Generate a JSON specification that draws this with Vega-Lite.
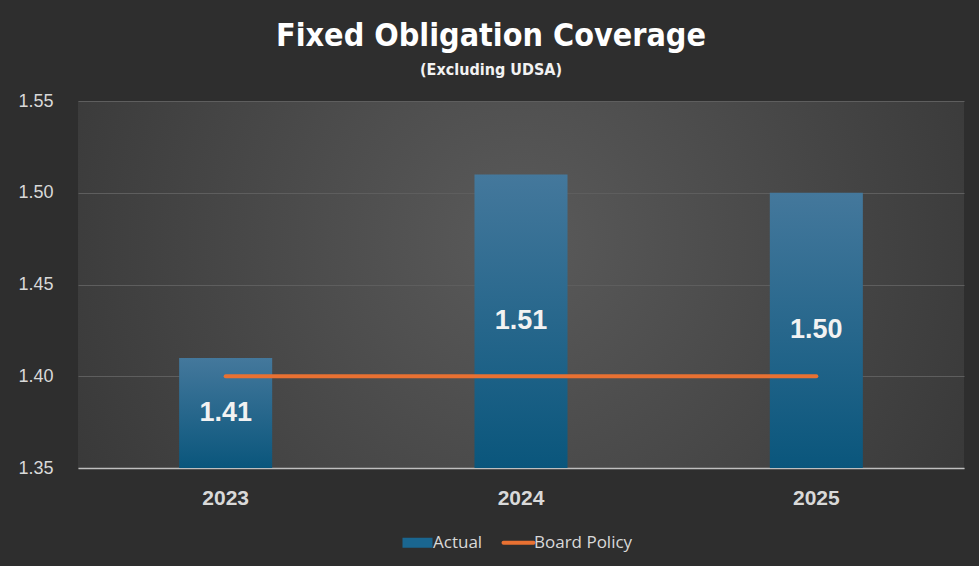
{
  "$schema": "https://vega.github.io/schema/vega-lite/v6.json",
  "autosize": "none",
  "width": 886,
  "height": 367,
  "padding": {"left": 78, "top": 101, "right": 15, "bottom": 98},
  "background": "#2e2e2e",
  "title": {
    "text": "Fixed Obligation Coverage",
    "subtitle": "(Excluding UDSA)",
    "frame": "bounds",
    "anchor": "middle",
    "font": "DejaVu Sans Condensed",
    "fontSize": 32,
    "fontWeight": "bold",
    "color": "#ffffff",
    "subtitleFont": "DejaVu Sans Condensed",
    "subtitleFontSize": 16,
    "subtitleFontWeight": "bold",
    "subtitleColor": "#f2f2f2",
    "subtitlePadding": 9,
    "offset": 13
  },
  "config": {
    "view": {
      "stroke": null,
      "fill": {
        "gradient": "radial",
        "x1": 0.5, "y1": 0.45, "r1": 0,
        "x2": 0.5, "y2": 0.45, "r2": 0.72,
        "stops": [
          {"offset": 0, "color": "#5a5a5a"},
          {"offset": 1, "color": "#303030"}
        ]
      }
    },
    "legend": {"layout": {"bottom": {"anchor": "middle"}}}
  },
  "data": {
    "values": [
      {"year": "2023", "actual": 1.41, "policy": 1.40},
      {"year": "2024", "actual": 1.51, "policy": 1.40},
      {"year": "2025", "actual": 1.50, "policy": 1.40}
    ]
  },
  "encoding": {
    "x": {
      "field": "year",
      "type": "nominal",
      "scale": {"paddingInner": 0.685, "paddingOuter": 0.3425},
      "axis": {
        "title": null,
        "labelAngle": 0,
        "labelFont": "Liberation Sans",
        "labelFontSize": 21,
        "labelFontWeight": "bold",
        "labelColor": "#d9d9d9",
        "labelPadding": 19,
        "ticks": false,
        "domainColor": "#bfbfbf",
        "domainWidth": 1.5,
        "grid": false
      }
    }
  },
  "layer": [
    {
      "mark": {
        "type": "bar",
        "fill": {
          "gradient": "linear",
          "x1": 0, "y1": 0, "x2": 0, "y2": 1,
          "stops": [
            {"offset": 0, "color": "#44789c"},
            {"offset": 1, "color": "#0a567c"}
          ]
        }
      },
      "encoding": {
        "y": {
          "field": "actual",
          "type": "quantitative",
          "scale": {"domain": [1.35, 1.55], "zero": false, "nice": false},
          "axis": {
            "title": null,
            "values": [1.35, 1.40, 1.45, 1.50, 1.55],
            "format": ".2f",
            "labelFont": "Liberation Sans",
            "labelFontSize": 18,
            "labelColor": "#d9d9d9",
            "labelAlign": "left",
            "labelPadding": 60,
            "ticks": false,
            "domain": false,
            "gridColor": "#5e5e5e",
            "gridWidth": 1
          }
        },
        "y2": {"datum": 1.35},
        "color": {
          "datum": "Actual",
          "type": "nominal",
          "scale": {"domain": ["Actual", "Board Policy"], "range": ["#1a6690", "#e97132"]},
          "legend": {
            "title": null,
            "orient": "bottom",
            "direction": "horizontal",
            "offset": 26,
            "labelFont": "Open Sans",
            "labelFontSize": 17,
            "labelColor": "#d9d9d9",
            "labelOffset": 7,
            "columnPadding": 12,
            "symbolSize": 1600,
            "encode": {
              "symbols": {
                "update": {
                  "shape": {"signal": "datum.label === 'Actual' ? 'M-0.75,-0.25H0.75V0.25H-0.75Z' : 'M-0.75,0H0.75'"},
                  "fill": {"signal": "datum.label === 'Actual' ? '#1a6690' : 'transparent'"},
                  "stroke": {"signal": "datum.label === 'Actual' ? 'transparent' : '#e97132'"},
                  "strokeWidth": {"signal": "datum.label === 'Actual' ? 0 : 4"},
                  "strokeCap": {"value": "round"}
                }
              }
            }
          }
        }
      }
    },
    {
      "mark": {"type": "line", "strokeWidth": 4, "strokeCap": "round"},
      "encoding": {
        "y": {"field": "policy", "type": "quantitative"},
        "color": {"datum": "Board Policy", "type": "nominal"}
      }
    },
    {
      "transform": [{"calculate": "(datum.actual + 1.35) / 2", "as": "mid"}],
      "mark": {"type": "text", "font": "Liberation Sans", "fontSize": 27, "fontWeight": "bold", "color": "#f2f2f2", "baseline": "middle"},
      "encoding": {
        "y": {"field": "mid", "type": "quantitative"},
        "text": {"field": "actual", "type": "quantitative", "format": ".2f"}
      }
    }
  ]
}
